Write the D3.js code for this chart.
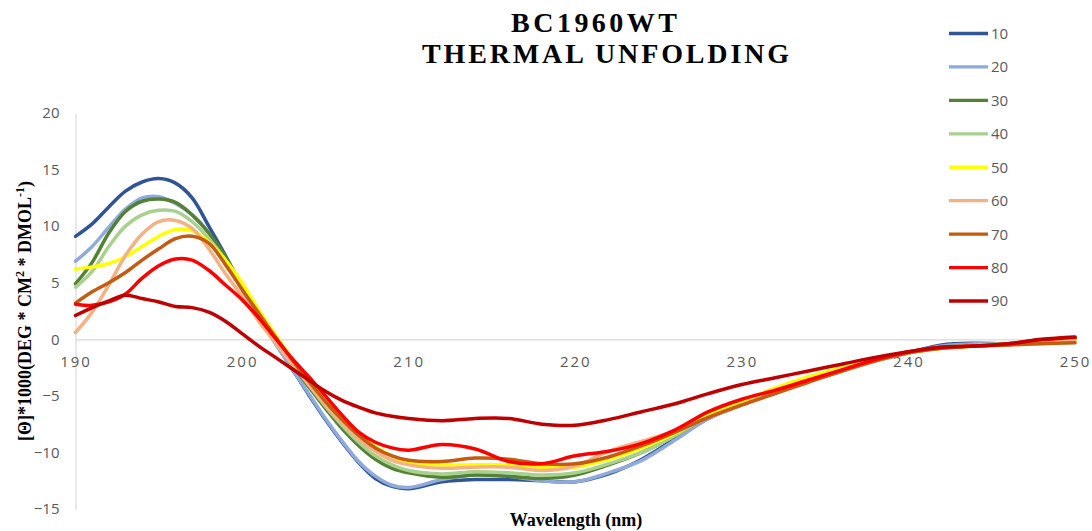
<!DOCTYPE html>
<html>
<head>
<meta charset="utf-8">
<script src="https://cdn.jsdelivr.net/npm/d3@7"></script>
<style>
  html, body { margin: 0; padding: 0; background: #fff; }
  svg { display: block; }
</style>
</head>
<body>
<svg id="chart" width="1092" height="531"></svg>
<script>
// Wavelength grid (nm)
const wavelengths = [190,191,192,193,194,195,196,197,198,199,200,201,202,203,204,205,206,207,208,209,210,
  212,214,216,218,220,222,224,226,228,230,232,234,236,238,240,242,244,246,248,250];

// Temperatures (series names)
const temps = ["10","20","30","40","50","60","70","80","90"];

// Mean residue ellipticity ×1000 per temperature
const t10 = [9.1,10.2,11.7,13.1,13.9,14.2,13.8,12.5,10.0,7.4,4.6,2.1,-0.3,-2.6,-4.9,-7.1,-9.1,-10.9,-12.3,-13.0,-13.2,
  -12.6,-12.4,-12.4,-12.5,-12.6,-11.9,-10.6,-8.8,-7.0,-5.8,-4.7,-3.7,-2.8,-1.9,-1.2,-0.5,-0.35,-0.4,-0.1,0.1];
const t20 = [6.9,8.2,9.9,11.5,12.5,12.6,12.0,11.0,9.4,7.0,4.4,2.0,-0.4,-2.6,-4.8,-7.0,-9.0,-10.8,-12.1,-12.9,-13.1,
  -12.4,-12.0,-12.1,-12.5,-12.6,-11.8,-10.7,-8.9,-7.0,-5.8,-4.7,-3.7,-2.8,-1.9,-1.2,-0.6,-0.4,-0.4,-0.1,0.1];
const t30 = [4.9,6.8,9.4,11.3,12.2,12.4,12.1,11.0,9.4,7.3,4.7,2.3,0.0,-2.2,-4.2,-6.1,-7.9,-9.4,-10.6,-11.4,-11.8,
  -12.2,-12.0,-12.1,-12.3,-12.0,-11.1,-10.0,-8.5,-6.8,-5.7,-4.7,-3.7,-2.8,-1.9,-1.2,-0.7,-0.5,-0.4,-0.1,0.1];
const t40 = [4.6,6.0,8.2,10.0,11.0,11.4,11.3,10.4,8.9,7.0,4.6,2.4,0.1,-2.0,-4.0,-5.9,-7.6,-9.1,-10.3,-11.1,-11.6,
  -11.9,-11.7,-11.8,-12.0,-11.8,-11.0,-10.0,-8.5,-6.8,-5.7,-4.7,-3.7,-2.8,-1.9,-1.2,-0.7,-0.5,-0.4,-0.1,0.0];
const t50 = [6.2,6.4,6.7,7.3,8.2,9.1,9.7,9.6,8.6,7.0,5.0,2.6,0.4,-1.7,-3.6,-5.4,-7.0,-8.4,-9.5,-10.3,-10.9,
  -11.1,-11.1,-11.1,-11.3,-11.3,-10.6,-9.6,-8.3,-6.6,-5.5,-4.3,-3.3,-2.5,-1.8,-1.2,-0.8,-0.6,-0.4,-0.2,-0.1];
const t60 = [0.6,2.4,4.8,7.4,9.3,10.4,10.5,9.8,8.0,5.8,3.8,1.6,-0.3,-2.2,-4.0,-5.8,-7.4,-8.8,-9.9,-10.7,-11.1,
  -11.4,-11.3,-11.3,-11.6,-11.2,-9.9,-9.0,-8.1,-6.9,-5.8,-4.7,-3.7,-2.8,-1.9,-1.2,-0.8,-0.6,-0.5,-0.3,-0.2];
const t70 = [3.2,4.2,5.0,5.9,7.0,8.0,8.9,9.1,8.5,6.6,4.4,2.3,0.2,-1.8,-3.7,-5.5,-7.1,-8.5,-9.6,-10.3,-10.7,
  -10.8,-10.5,-10.6,-11.0,-11.0,-10.4,-9.4,-8.2,-6.9,-5.8,-4.8,-3.8,-2.8,-1.9,-1.2,-0.8,-0.6,-0.5,-0.4,-0.3];
const t80 = [3.1,3.0,3.3,4.0,5.4,6.5,7.1,7.0,6.1,4.8,3.5,1.9,0.1,-1.7,-3.3,-5.0,-6.7,-8.2,-9.1,-9.6,-9.8,
  -9.3,-9.7,-10.8,-11.0,-10.3,-9.9,-9.2,-8.0,-6.4,-5.3,-4.5,-3.6,-2.7,-1.8,-1.1,-0.7,-0.6,-0.4,-0.05,0.15];
const t90 = [2.1,2.8,3.4,3.9,3.6,3.3,2.9,2.8,2.4,1.6,0.5,-0.6,-1.6,-2.6,-3.6,-4.6,-5.4,-6.0,-6.5,-6.8,-7.0,
  -7.2,-7.0,-7.0,-7.5,-7.6,-7.1,-6.4,-5.7,-4.8,-4.0,-3.4,-2.8,-2.2,-1.6,-1.1,-0.7,-0.6,-0.4,0.0,0.2];

const seriesValues = [t10, t20, t30, t40, t50, t60, t70, t80, t90];
const colors = ["#2F5597","#8FAADC","#548235","#A9D18E","#FFFF00","#F4B183","#C55A11","#FF0000","#C00000"];

const xTicks = [190,200,210,220,230,240,250];
const yTicks = [-15,-10,-5,0,5,10,15,20];

const svg = d3.select("#chart");

const x = d3.scaleLinear().domain([190, 250]).range([75.5, 1075]);
const y = d3.scaleLinear().domain([-15, 20]).range([509, 113]);

const tickFont = "'Open Sans', 'DejaVu Sans', sans-serif";
const serif = "'Liberation Serif', 'Times New Roman', serif";

// Vertical axis
const yAxis = svg.append("g")
  .attr("transform", `translate(${x(190)},0)`)
  .call(d3.axisLeft(y).tickValues(yTicks).tickSize(0).tickPadding(16));
yAxis.select(".domain").attr("stroke", "#d9d9d9").attr("stroke-width", 1.2);
yAxis.selectAll("text")
  .attr("fill", "#595959")
  .style("font-family", tickFont)
  .style("font-size", "15px");

// Horizontal axis along zero
const xAxis = svg.append("g")
  .attr("transform", `translate(0,${y(0)})`)
  .call(d3.axisBottom(x).tickValues(xTicks).tickSize(0).tickPadding(17));
xAxis.select(".domain").attr("stroke", "#d9d9d9").attr("stroke-width", 1.2);
xAxis.selectAll("text")
  .attr("fill", "#595959")
  .style("font-family", tickFont)
  .style("font-size", "15px")
  .style("letter-spacing", "2px");

// Spectra
const line = d3.line()
  .x((d, i) => x(wavelengths[i]))
  .y(d => y(d))
  .curve(d3.curveCatmullRom.alpha(0.5));

svg.append("g")
  .selectAll("path")
  .data(seriesValues)
  .join("path")
  .attr("d", d => line(d))
  .attr("fill", "none")
  .attr("stroke", (d, i) => colors[i])
  .attr("stroke-width", 3.5)
  .attr("stroke-linejoin", "round")
  .attr("stroke-linecap", "round");

// Title
const title = svg.append("g")
  .style("font-family", serif)
  .style("font-weight", "bold")
  .style("font-size", "28px")
  .attr("fill", "#000");
title.append("text").attr("x", 511).attr("y", 32)
  .attr("textLength", 166).attr("lengthAdjust", "spacing").text("BC1960WT");
title.append("text").attr("x", 422).attr("y", 63)
  .attr("textLength", 367).attr("lengthAdjust", "spacing").text("THERMAL UNFOLDING");

// Axis titles
const yTitle = svg.append("text")
  .attr("transform", "translate(31,311) rotate(-90)")
  .attr("text-anchor", "middle")
  .style("font-family", serif)
  .style("font-weight", "bold")
  .style("font-size", "18px")
  .attr("fill", "#000");
yTitle.append("tspan").text("[Θ]*1000(DEG * CM");
yTitle.append("tspan").attr("dy", -7).style("font-size", "12px").text("2");
yTitle.append("tspan").attr("dy", 7).text(" * DMOL");
yTitle.append("tspan").attr("dy", -7).style("font-size", "12px").text("-1");
yTitle.append("tspan").attr("dy", 7).text(")");

svg.append("text")
  .attr("x", 576).attr("y", 526)
  .attr("text-anchor", "middle")
  .style("font-family", serif)
  .style("font-weight", "bold")
  .style("font-size", "18px")
  .attr("fill", "#000")
  .text("Wavelength (nm)");

// Legend
const legendY = d3.scaleLinear().domain([0, temps.length - 1]).range([33.5, 301]);
const legend = svg.append("g")
  .selectAll("g")
  .data(temps)
  .join("g")
  .attr("transform", (d, i) => `translate(0,${legendY(i)})`);
legend.append("line")
  .attr("x1", 949).attr("x2", 988)
  .attr("stroke", (d, i) => colors[i])
  .attr("stroke-width", 3.3);
legend.append("text")
  .attr("x", 991).attr("dy", "0.36em")
  .attr("fill", "#595959")
  .style("font-family", tickFont)
  .style("font-size", "15px")
  .text(d => d);
</script>
</body>
</html>
